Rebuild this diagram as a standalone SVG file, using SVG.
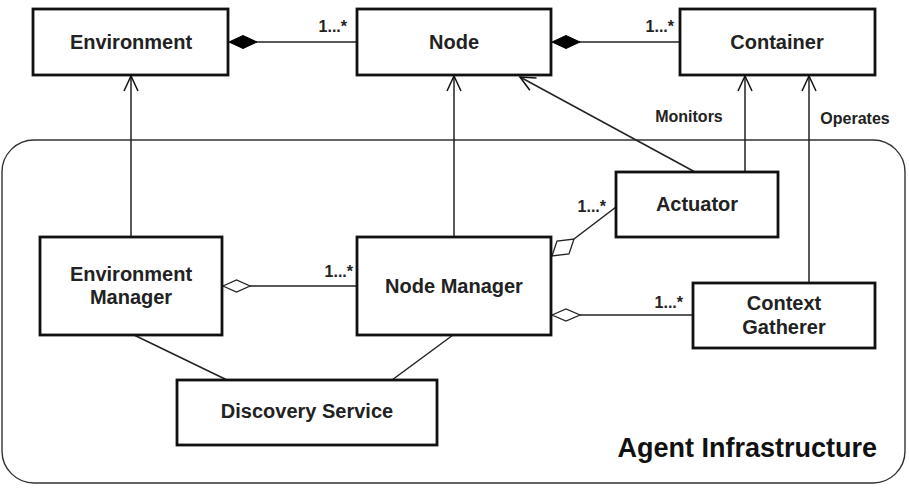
<svg xmlns="http://www.w3.org/2000/svg" width="909" height="489" viewBox="0 0 909 489">
<defs>
<marker id="open" markerWidth="18" markerHeight="16" refX="16" refY="8" orient="auto" markerUnits="userSpaceOnUse">
<path d="M1,1 L16,8 L1,15" fill="none" stroke="#111" stroke-width="1.5"/>
</marker>
</defs>
<style>
.box{fill:#fff;stroke:#111;stroke-width:2.8}
.lbl{font-family:"Liberation Sans",Arial,sans-serif;font-weight:bold;font-size:20px;fill:#222;text-anchor:middle}
.sm{font-family:"Liberation Sans",Arial,sans-serif;font-weight:bold;font-size:16px;fill:#222}
.ln{fill:none;stroke:#222;stroke-width:1.5}
.comp{fill:#000;stroke:#000;stroke-width:1}
.agg{fill:#fff;stroke:#222;stroke-width:1.3}
</style>
<rect width="909" height="489" fill="#fff"/>
<g id="agent-infrastructure">
<rect x="2" y="140" width="903" height="343" rx="32" ry="32" fill="none" stroke="#333" stroke-width="1.4"/>
<text x="877" y="457" font-family="'Liberation Sans',Arial,sans-serif" font-weight="bold" font-size="27" fill="#111" text-anchor="end">Agent Infrastructure</text>
</g>
<g id="connectors">
<path class="ln" d="M357,42 L256,42"/>
<path class="comp" d="M229,42 L243,35.5 L257,42 L243,48.5 Z"/>
<path class="ln" d="M680,42 L579,42"/>
<path class="comp" d="M552,42 L566,35.5 L580,42 L566,48.5 Z"/>
<line class="ln" x1="131" y1="237" x2="131" y2="76" marker-end="url(#open)"/>
<line class="ln" x1="454" y1="237" x2="454" y2="76" marker-end="url(#open)"/>
<line class="ln" x1="695" y1="172" x2="520" y2="77" marker-end="url(#open)"/>
<line class="ln" x1="745" y1="172" x2="745" y2="76" marker-end="url(#open)"/>
<line class="ln" x1="809" y1="283" x2="809" y2="76" marker-end="url(#open)"/>
<path class="ln" d="M357,286 L250,286"/>
<path class="agg" d="M223,286 L236.5,280 L250,286 L236.5,292 Z"/>
<path class="ln" d="M616,207 L574,239"/>
<path class="agg" d="M552,256 L557,241 L574,239 L569,254 Z"/>
<path class="ln" d="M693,315 L580,315"/>
<path class="agg" d="M552,315 L566,309 L580,315 L566,321 Z"/>
<path class="ln" d="M134,335 L227,380"/>
<path class="ln" d="M453,335 L392,380"/>
<text class="sm" x="347" y="32" text-anchor="end">1...*</text>
<text class="sm" x="674" y="32" text-anchor="end">1...*</text>
<text class="sm" x="353" y="277" text-anchor="end">1...*</text>
<text class="sm" x="606" y="212" text-anchor="end">1...*</text>
<text class="sm" x="683" y="308" text-anchor="end">1...*</text>
<text class="sm" x="689" y="122" text-anchor="middle" font-size="17">Monitors</text>
<text class="sm" x="855" y="124" text-anchor="middle" font-size="17">Operates</text>
</g>
<g id="environment">
<rect class="box" x="33" y="9" width="195" height="66"/>
<text class="lbl" x="131" y="49">Environment</text>
</g>
<g id="node">
<rect class="box" x="357" y="9" width="194" height="66"/>
<text class="lbl" x="454" y="49">Node</text>
</g>
<g id="container">
<rect class="box" x="680" y="9" width="195" height="66"/>
<text class="lbl" x="777" y="49">Container</text>
</g>
<g id="environment-manager">
<rect class="box" x="40" y="237" width="182" height="98"/>
<text class="lbl" x="131" y="281">Environment</text>
<text class="lbl" x="131" y="304">Manager</text>
</g>
<g id="node-manager">
<rect class="box" x="357" y="237" width="194" height="98"/>
<text class="lbl" x="454" y="293">Node Manager</text>
</g>
<g id="actuator">
<rect class="box" x="616" y="172" width="162" height="65"/>
<text class="lbl" x="697" y="211">Actuator</text>
</g>
<g id="context-gatherer">
<rect class="box" x="693" y="283" width="182" height="65"/>
<text class="lbl" x="784" y="310">Context</text>
<text class="lbl" x="784" y="334">Gatherer</text>
</g>
<g id="discovery-service">
<rect class="box" x="177" y="380" width="260" height="65"/>
<text class="lbl" x="307" y="418">Discovery Service</text>
</g>
</svg>
